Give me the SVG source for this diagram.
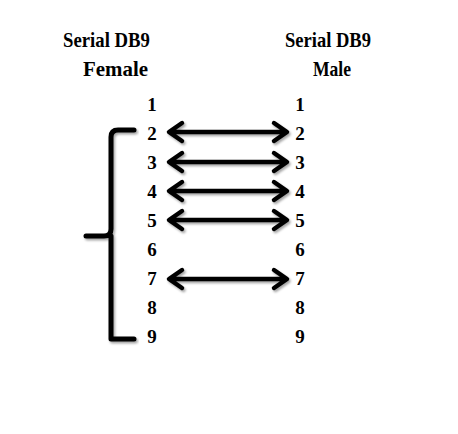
<svg xmlns="http://www.w3.org/2000/svg" width="458" height="434" viewBox="0 0 458 434">
<style>
text{font-family:"Liberation Serif","Tinos","Times New Roman","DejaVu Serif",serif;font-weight:700;fill:#000}
.t{font-size:21px}
.n{font-size:19px;text-anchor:middle}
.a{fill:none;stroke:#000;stroke-width:4.5;stroke-linecap:round;stroke-linejoin:round}
</style>
<defs>
<filter id="sh" x="-10%" y="-50%" width="120%" height="200%">
<feDropShadow dx="1.5" dy="2" stdDeviation="1.2" flood-color="#000" flood-opacity="0.35"/>
</filter>
<g id="arrow">
<path class="a" d="M170,0 H286 M182,-9 L169,0 L182,9 M274,-9 L287,0 L274,9"/>
</g>
</defs>
<rect width="458" height="434" fill="#fff"/>
<g id="header-female">
<text class="t" x="63" y="47" textLength="87" lengthAdjust="spacingAndGlyphs">Serial DB9</text>
<text class="t" x="83" y="76" textLength="65" lengthAdjust="spacingAndGlyphs">Female</text>
</g>
<g id="header-male">
<text class="t" x="285" y="47" textLength="86" lengthAdjust="spacingAndGlyphs">Serial DB9</text>
<text class="t" x="313" y="76" textLength="38" lengthAdjust="spacingAndGlyphs">Male</text>
</g>
<g id="female-pins">
<text class="n" x="152" y="111">1</text>
<text class="n" x="152" y="140">2</text>
<text class="n" x="152" y="169">3</text>
<text class="n" x="152" y="198">4</text>
<text class="n" x="152" y="227">5</text>
<text class="n" x="152" y="256">6</text>
<text class="n" x="152" y="285">7</text>
<text class="n" x="152" y="314">8</text>
<text class="n" x="152" y="343">9</text>
</g>
<g id="male-pins">
<text class="n" x="300" y="111">1</text>
<text class="n" x="300" y="140">2</text>
<text class="n" x="300" y="169">3</text>
<text class="n" x="300" y="198">4</text>
<text class="n" x="300" y="227">5</text>
<text class="n" x="300" y="256">6</text>
<text class="n" x="300" y="285">7</text>
<text class="n" x="300" y="314">8</text>
<text class="n" x="300" y="343">9</text>
</g>
<g id="bracket" filter="url(#sh)">
<path class="a" d="M134,130 H118 Q111,130 111,137 V229 Q111,236 104,236 H86 M111,236 Q111,238 111,244 V339 H134" style="stroke-width:5"/>
</g>
<g id="connectors" filter="url(#sh)">
<use href="#arrow" transform="translate(0,132)"/>
<use href="#arrow" transform="translate(0,162)"/>
<use href="#arrow" transform="translate(0,191)"/>
<use href="#arrow" transform="translate(0,220)"/>
<use href="#arrow" transform="translate(0,279)"/>
</g>
</svg>
